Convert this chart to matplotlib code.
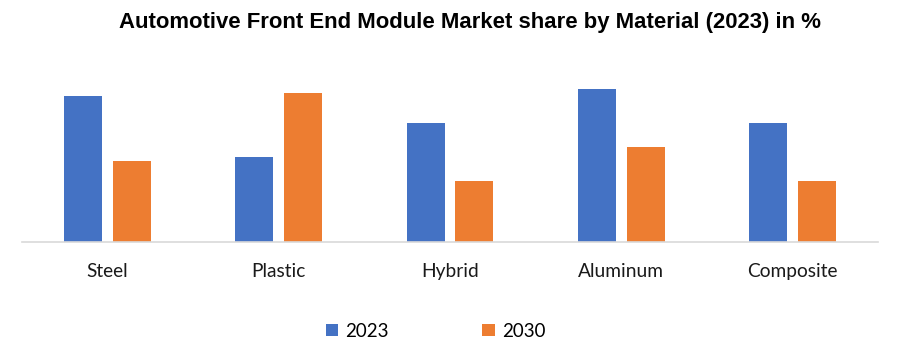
import matplotlib
matplotlib.use("Agg")
import matplotlib.pyplot as plt
import numpy as np

# values (no axis shown, relative heights)
materials = ["Steel", "Plastic", "Hybrid", "Aluminum", "Composite"]
share_2023 = [14.6, 8.5, 11.9, 15.3, 11.9]
share_2030 = [8.1, 14.9, 6.1, 9.5, 6.1]
years = ["2023", "2030"]

BLUE = "#4472C4"
ORANGE = "#ED7D31"
plt.rcParams['font.family'] = ['Lato', 'DejaVu Sans']

fig = plt.figure(figsize=(9, 3.45), dpi=100)
ax = fig.add_axes([22 / 900, 103 / 345, 856 / 900, 172 / 345])

x = np.arange(len(materials))
w = 0.222
off = 0.143
ax.bar(x - off, share_2023, width=w, color=BLUE, label=years[0])
ax.bar(x + off, share_2030, width=w, color=ORANGE, label=years[1])

ax.set_xlim(-0.5, len(materials) - 0.5)
ax.set_ylim(0, 17.2)
ax.set_yticks([])
ax.set_xticks(x)
ax.set_xticklabels(materials, fontsize=13.8, color="#1a1a1a")
ax.tick_params(axis="x", length=0, pad=15)
for s in ["top", "left", "right"]:
    ax.spines[s].set_visible(False)
ax.spines["bottom"].set_color("#d9d9d9")
ax.spines["bottom"].set_linewidth(1.2)

fig.text(0.522, 0.935, "Automotive Front End Module Market share by Material (2023) in %",
         ha="center", va="center", fontsize=15.9, fontweight="bold",
         family=['Liberation Sans', 'DejaVu Sans'])

fig.legend(loc="center", bbox_to_anchor=(0.484, 0.04), ncol=2, frameon=False,
           fontsize=13.5, handlelength=0.65, handleheight=0.65, handletextpad=0.4,
           columnspacing=5.0)

fig.savefig("out.png", dpi=100)
